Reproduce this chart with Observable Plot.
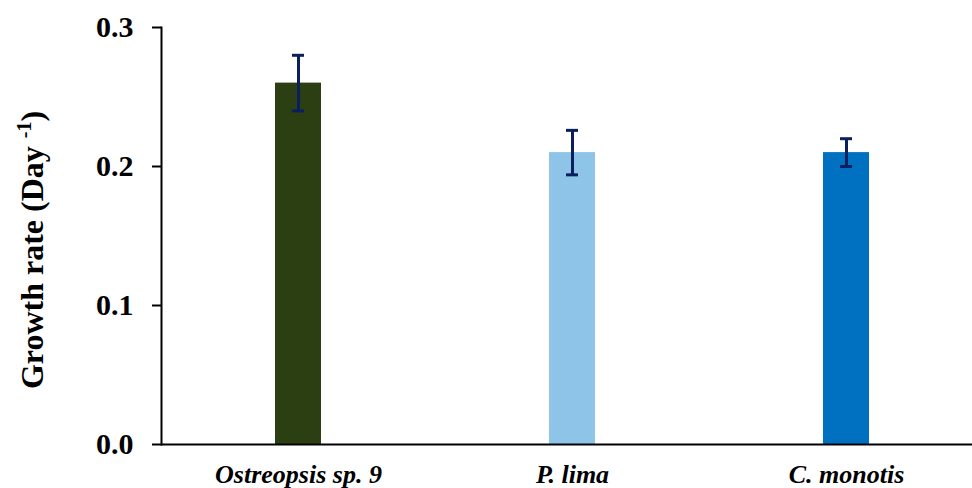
<!DOCTYPE html>
<html>
<head>
<meta charset="utf-8">
<script src="https://cdn.jsdelivr.net/npm/d3@7"></script>
<script src="https://cdn.jsdelivr.net/npm/@observablehq/plot@0.6"></script>
<style>
  html, body { margin: 0; padding: 0; background: #fff; }
  #chart svg { display: block; }
</style>
</head>
<body>
<div id="chart"></div>
<script>
const species = ["Ostreopsis sp. 9", "P. lima", "C. monotis"];
const growth = [0.26, 0.21, 0.21];
const errors = [0.02, 0.016, 0.01];
const yTicks = [0, 0.1, 0.2, 0.3];

const data = species.map((s, i) => ({species: s, value: growth[i], lo: growth[i] - errors[i], hi: growth[i] + errors[i]}));

const font = "'Liberation Serif', 'Times New Roman', serif";

const plot = Plot.plot({
  width: 972,
  height: 488,
  marginLeft: 161,
  marginRight: 0,
  marginTop: 27,
  marginBottom: 44,
  style: {fontFamily: font, background: "#fff", overflow: "visible"},
  x: {domain: species, range: [161, 983], paddingInner: 0.832, paddingOuter: 0.416, align: 0.5},
  y: {domain: [0, 0.3]},
  color: {domain: species, range: ["#2B3F13", "#8EC4E8", "#0070C0"]},
  marks: [
    Plot.barY(data, {x: "species", y: "value", fill: "species"}),
    Plot.ruleX(data, {x: "species", y1: "lo", y2: "hi", stroke: "#0A1F5E", strokeWidth: 3}),
    Plot.tickY(data, {x: "species", y: "lo", stroke: "#0A1F5E", strokeWidth: 3, insetLeft: 17, insetRight: 17}),
    Plot.tickY(data, {x: "species", y: "hi", stroke: "#0A1F5E", strokeWidth: 3, insetLeft: 17, insetRight: 17}),
    Plot.axisY({ticks: yTicks, tickFormat: d3.format(".1f"), tickSize: 9, tickPadding: 19, label: null,
      fontSize: 30, fontWeight: "bold", stroke: "#000", strokeWidth: 2, color: "#000"}),
    Plot.axisX({tickSize: 0, tickPadding: 20, label: null, fontSize: 26, fontWeight: "bold", fontStyle: "italic", color: "#000"}),
    Plot.frame({anchor: "left", stroke: "#000", strokeWidth: 2}),
    Plot.ruleY([0], {stroke: "#000", strokeWidth: 2})
  ]
});

document.getElementById("chart").appendChild(plot);

// Y-axis title with superscript
const svg = d3.select(plot);
const t = svg.append("text")
  .attr("transform", "translate(43,250) rotate(-90)")
  .attr("text-anchor", "middle")
  .attr("font-family", font)
  .attr("font-weight", "bold")
  .attr("font-size", 32)
  .attr("fill", "#000");
t.append("tspan").text("Growth rate (Day ");
t.append("tspan").attr("font-size", 20).attr("dy", -12).text("-1");
t.append("tspan").attr("dy", 12).text(")");
</script>
</body>
</html>
